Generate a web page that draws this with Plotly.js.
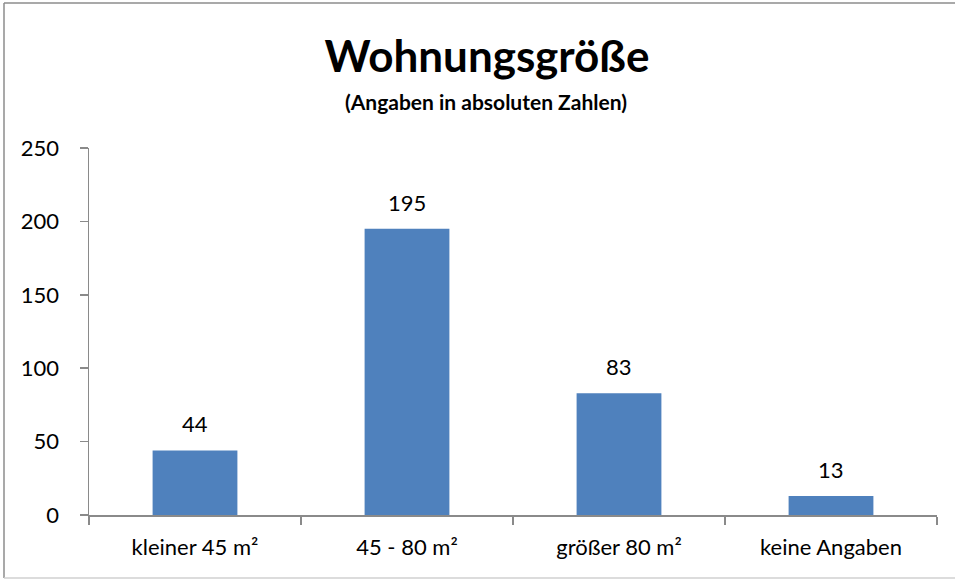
<!DOCTYPE html>
<html><head><meta charset="utf-8">
<script src="https://cdn.plot.ly/plotly-3.0.1.min.js"></script>
<style>html,body{margin:0;padding:0;background:#fff}#c{width:955px;height:581px}</style>
</head><body><div id="c"></div>
<script>
const categories = ["kleiner 45 m²", "45 - 80 m²", "größer 80 m²", "keine Angaben"];
const values = [44, 195, 83, 13];
const titleText = "Wohnungsgröße";
const subtitleText = "(Angaben in absoluten Zahlen)";
const yTicks = [0, 50, 100, 150, 200, 250];

const FONT = "Lato, 'Open Sans', sans-serif";
const L = 89, R = 18, T = 148, B = 66, W = 955, H = 581;
const pw = W - L - R, ph = H - T - B;
const px = x => (x - L) / pw;
const py = y => (H - B - y) / ph;

const trace = {
  type: "bar", x: categories, y: values,
  marker: {color: "#4F81BD"}, width: 0.4, hoverinfo: "none"
};
const annotations = categories.map((c, i) => ({
  x: c, y: values[i], xref: "x", yref: "y", text: String(values[i]),
  showarrow: false, yanchor: "bottom", yshift: 11,
  font: {family: FONT, size: 22, color: "#000"}
}));
annotations.push({
  xref: "paper", yref: "paper", x: px(486), y: py(101), text: "<b>" + subtitleText + "</b>",
  showarrow: false, xanchor: "center", yanchor: "middle",
  font: {family: FONT, size: 21, color: "#000"}
});
const line = "#8a8a8a";
const layout = {
  width: W, height: H,
  margin: {l: L, r: R, t: T, b: B, pad: 0},
  paper_bgcolor: "#fff", plot_bgcolor: "#fff",
  showlegend: false,
  title: {text: "<b>" + titleText + "</b>", x: px(487), xref: "paper", xanchor: "center",
          y: 1 - 57 / H, yanchor: "middle",
          font: {family: FONT, size: 44, color: "#000"}},
  xaxis: {
    type: "category", range: [-0.5, 3.5], tickson: "boundaries",
    ticks: "outside", ticklen: 8, tickcolor: line, tickwidth: 1.5,
    showline: true, linecolor: line, linewidth: 1.5, showgrid: false,
    tickfont: {family: FONT, size: 22, color: "#000"}, ticklabelstandoff: 12,
    fixedrange: true
  },
  yaxis: {
    range: [0, 250], tickvals: yTicks, ticks: "outside", ticklen: 8,
    tickcolor: line, tickwidth: 1.5, showline: true, linecolor: line, linewidth: 1.5,
    showgrid: false, zeroline: false,
    tickfont: {family: FONT, size: 22, color: "#000"}, ticklabelstandoff: 16,
    fixedrange: true
  },
  annotations: annotations,
  shapes: [
    {type: "line", xref: "paper", yref: "paper", x0: px(4), x1: px(4), y0: py(3), y1: py(578), line: {color: "#8c8c8c", width: 1.5}},
    {type: "line", xref: "paper", yref: "paper", x0: px(4), x1: px(960), y0: py(3), y1: py(3), line: {color: "#8c8c8c", width: 1.5}},
    {type: "line", xref: "paper", yref: "paper", x0: px(4), x1: px(960), y0: py(578), y1: py(578), line: {color: "#d0d0d0", width: 1.5}}
  ]
};
Plotly.newPlot("c", [trace], layout, {staticPlot: true, displayModeBar: false});
</script></body></html>
